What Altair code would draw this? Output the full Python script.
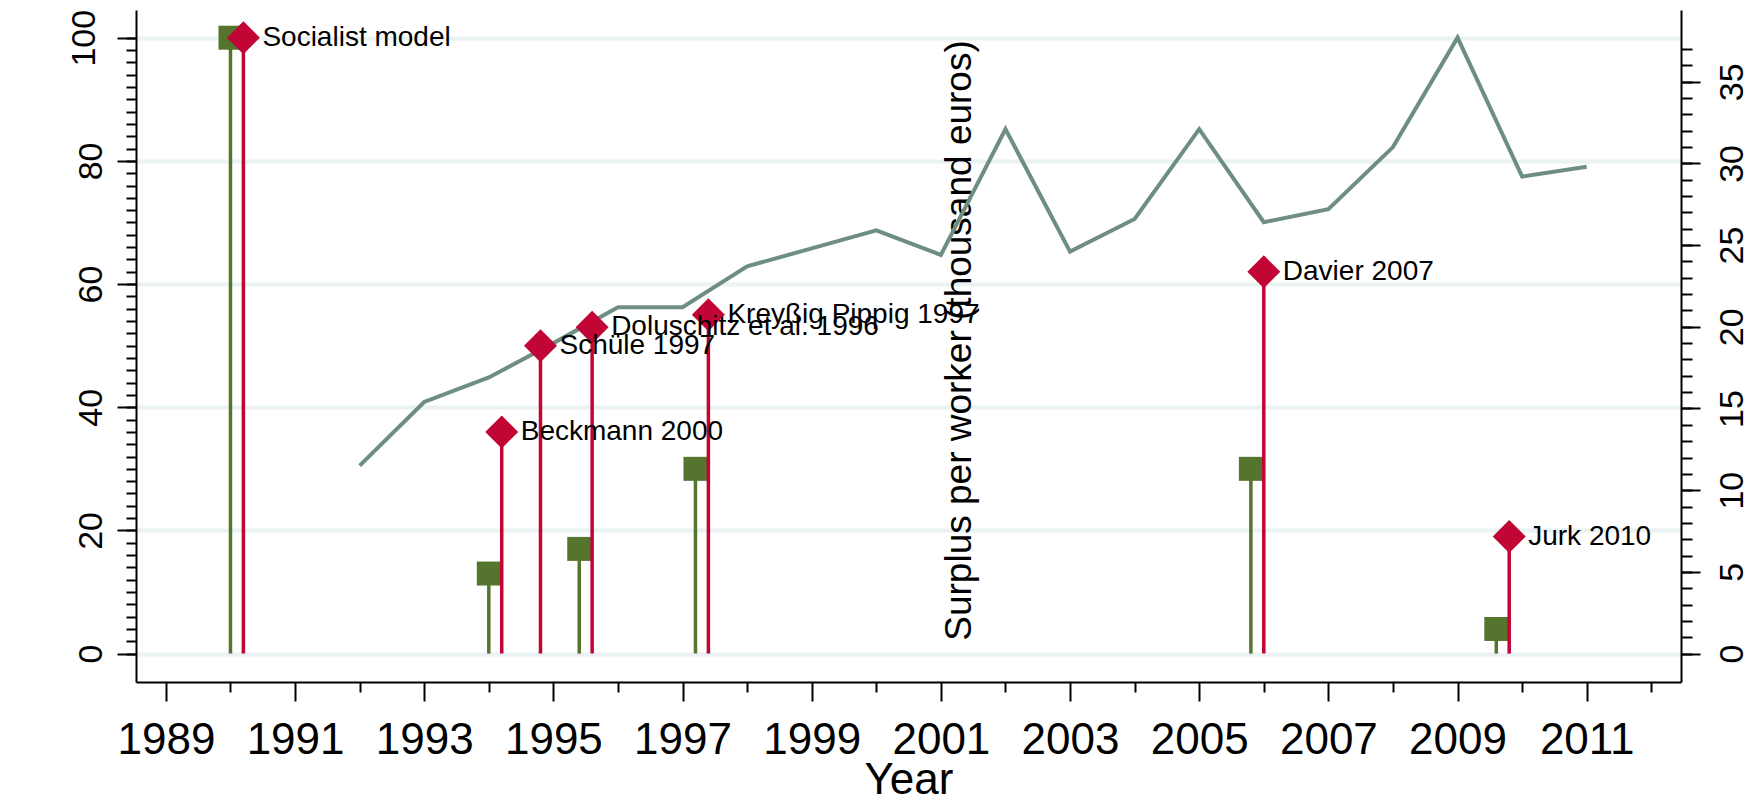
import altair as alt
import pandas as pd

# ---- data ----
years = list(range(1992, 2012))
surplus = [11.5, 15.4, 16.9, 19.0, 21.2, 21.2, 23.7, 24.8, 25.9, 24.4,
           32.1, 24.6, 26.6, 32.1, 26.4, 27.2, 31.0, 37.7, 29.2, 29.8]

green_x = [1990.0, 1994.0, 1995.4, 1997.2, 2005.8, 2009.6]
green_y = [100, 13, 17, 30, 30, 4]

red_x = [1990.2, 1994.2, 1994.8, 1995.6, 1997.4, 2006.0, 2009.8]
red_y = [100, 36, 50, 53, 55, 62, 19]
red_labels = ["Socialist model", "Beckmann 2000", "Schüle 1997",
              "Doluschitz et al. 1996", "Kreyßig Pippig 1997",
              "Davier 2007", "Jurk 2010"]

left_major = [0, 20, 40, 60, 80, 100]
left_minor = list(range(0, 101, 2))
right_major = [0, 5, 10, 15, 20, 25, 30, 35]
right_minor = list(range(0, 38))
x_major = list(range(1989, 2012, 2))
x_minor = list(range(1990, 2013, 2))

line_df = pd.DataFrame({"year": years, "surplus": surplus})
green_df = pd.DataFrame({"x": green_x, "y": green_y})
red_df = pd.DataFrame({"x": red_x, "y": red_y, "label": red_labels})

# ---- styling ----
FONT = "Liberation Sans"
GREEN = "#55752F"
RED = "#C10534"
LINE = "#6E8E84"
GRID = "#EAF2F3"

W, H = 1545, 672
xs = alt.Scale(domain=[1988.537, 2012.46], nice=False, zero=False)
yl = alt.Scale(domain=[-4.61, 104.5], nice=False, zero=False)
yr = alt.Scale(domain=[-1.74, 39.39], nice=False, zero=False)

tick_common = dict(tickColor="black", tickWidth=2, grid=False)

# right axis (major, labelled, with title)
line = alt.Chart(line_df).mark_line(color=LINE, strokeWidth=4).encode(
    x=alt.X("year:Q", scale=xs, axis=None),
    y=alt.Y("surplus:Q", scale=yr, axis=alt.Axis(
        orient="right", values=right_major, tickSize=19, domain=False,
        labelAngle=270, labelAlign="center", labelBaseline="top",
        labelPadding=15, labelFontSize=34, labelFont=FONT, labelColor="black",
        labelFlush=False, labelOverlap=False,
        title="Surplus per worker (thousand euros)", titleAngle=270,
        titleX=-722, titleY=330, titleAlign="center", titleBaseline="middle",
        titleFontSize=37, titleFontWeight="normal", titleFont=FONT,
        titleColor="black", **tick_common)),
)

# right axis minor ticks + axis line
line_minor = alt.Chart(line_df).mark_point(opacity=0).encode(
    x=alt.X("year:Q", scale=xs, axis=None),
    y=alt.Y("surplus:Q", scale=yr, title="", axis=alt.Axis(
        orient="right", values=right_minor, tickSize=11, labels=False,
        domain=True, domainColor="black", domainWidth=2, **tick_common)),
)

green_stems = alt.Chart(green_df).mark_rule(color=GREEN, strokeWidth=3.5).encode(
    x=alt.X("x:Q", scale=xs, title="", axis=alt.Axis(
        orient="bottom", values=x_minor, tickSize=10, labels=False,
        domain=False, **tick_common)),
    y=alt.Y("y:Q", scale=yl, title="", axis=alt.Axis(
        orient="left", values=left_minor, tickSize=10, labels=False,
        domain=True, domainColor="black", domainWidth=2, **tick_common)),
    y2=alt.datum(0),
)

green_pts = alt.Chart(green_df).mark_square(color=GREEN, size=576, opacity=1).encode(
    x=alt.X("x:Q", scale=xs, axis=None),
    y=alt.Y("y:Q", scale=yl, axis=None),
)

red_stems = alt.Chart(red_df).mark_rule(color=RED, strokeWidth=3.5).encode(
    x=alt.X("x:Q", scale=xs, axis=alt.Axis(
        orient="bottom", values=x_major, format="d", tickSize=19,
        domain=True, domainColor="black", domainWidth=2,
        labelAngle=0, labelAlign="center", labelBaseline="top",
        labelPadding=17, labelFontSize=44, labelFont=FONT, labelColor="black",
        labelFlush=False, labelOverlap=False,
        title="Year", titleFontSize=44, titleFontWeight="normal",
        titleFont=FONT, titleColor="black", titleY=111,
        titleBaseline="alphabetic", **tick_common)),
    y=alt.Y("y:Q", scale=yl, title="", axis=alt.Axis(
        orient="left", values=left_major, tickSize=19, domain=False,
        tickColor="black", tickWidth=2,
        grid=True, gridColor=GRID, gridWidth=4,
        labelAngle=270, labelAlign="center", labelBaseline="bottom",
        labelPadding={"condition": {"test": "datum.value >= 100", "value": 16},
                      "value": 9},
        labelFontSize=34, labelFont=FONT, labelColor="black",
        labelFlush=False, labelOverlap=False)),
    y2=alt.datum(0),
)

red_pts = alt.Chart(red_df).mark_point(
    shape="diamond", filled=True, size=1090, color=RED, opacity=1).encode(
    x=alt.X("x:Q", scale=xs, axis=None),
    y=alt.Y("y:Q", scale=yl, axis=None),
)

labels = alt.Chart(red_df).mark_text(
    align="left", baseline="middle", dx=19, fontSize=28,
    font=FONT, color="black").encode(
    x=alt.X("x:Q", scale=xs, axis=None),
    y=alt.Y("y:Q", scale=yl, axis=None),
    text="label:N",
)

chart = alt.layer(
    line, line_minor, green_stems, green_pts, red_stems, red_pts, labels
).resolve_scale(
    y="independent"
).resolve_axis(
    x="independent", y="independent"
).properties(
    width=W, height=H,
    autosize=alt.AutoSizeParams(type="none"),
    padding={"left": 136, "top": 10, "right": 77, "bottom": 120},
    background="white",
).configure_view(strokeWidth=0)

chart.save("out.html", embed_options={"renderer": "svg", "actions": False})
